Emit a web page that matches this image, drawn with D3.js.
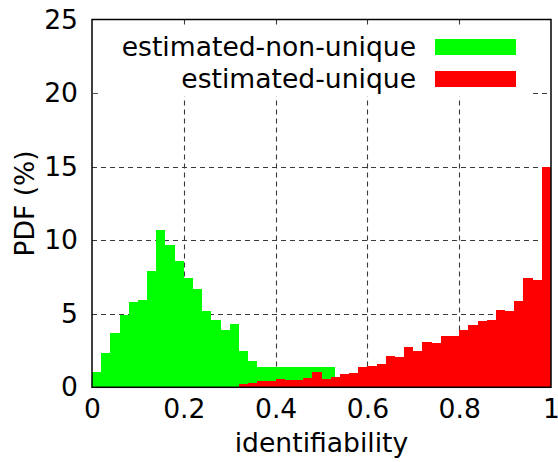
<!DOCTYPE html>
<html>
<head>
<meta charset="utf-8">
<script src="https://cdn.jsdelivr.net/npm/d3@7/dist/d3.min.js"></script>
<style>
  html, body { margin: 0; padding: 0; background: #fff; }
  svg { display: block; }
  text { font-family: "DejaVu Sans", sans-serif; fill: #000; }
</style>
</head>
<body>
<svg id="chart" width="558" height="462"></svg>
<script>
// Histogram of identifiability, PDF in percent per bin.
const seriesNames = ["estimated-non-unique", "estimated-unique"];
const seriesColors = ["#00ff00", "#ff0000"];

// estimated-non-unique: 0.02-wide bins up to 0.36, then one bin covering the tail to 0.53
const greenEdges = [0, 0.02, 0.04, 0.06, 0.08, 0.10, 0.12, 0.14, 0.16, 0.18,
                    0.20, 0.22, 0.24, 0.26, 0.28, 0.30, 0.32, 0.34, 0.36, 0.53];
const greenPdf = [1.05, 2.33, 3.69, 4.91, 5.80, 5.93, 7.90, 10.69, 9.69, 8.58,
                  7.43, 6.68, 5.21, 4.58, 3.90, 4.31, 2.47, 1.79, 1.38];

// estimated-unique: 0.02-wide bins from 0.32 to 1.00
const redStart = 0.32, binWidth = 0.02;
const redPdf = [0.23, 0.30, 0.44, 0.44, 0.57, 0.50, 0.50, 0.64, 1.05, 0.57,
                0.71, 0.91, 0.98, 1.38, 1.45, 1.59, 2.13, 2.06, 2.74, 2.47,
                3.08, 3.01, 3.49, 3.49, 3.90, 4.24, 4.51, 4.58, 5.26, 5.19,
                5.87, 7.43, 7.29, 14.96];

const xTicks = [0, 0.2, 0.4, 0.6, 0.8, 1];
const yTicks = [0, 5, 10, 15, 20, 25];

const fontSize = 26.6;
const svg = d3.select("#chart");
const plotL = 92, plotR = 551, plotT = 19.5, plotB = 387.3;
const x = d3.scaleLinear().domain([0, 1]).range([plotL, plotR]);
const y = d3.scaleLinear().domain([0, 25]).range([plotB, plotT]);

const greenBins = greenPdf.map((v, i) => ({ x0: greenEdges[i], x1: greenEdges[i + 1], v }));
const redBins = redPdf.map((v, i) => ({ x0: redStart + i * binWidth, x1: redStart + (i + 1) * binWidth, v }));

// grid
const grid = svg.append("g").attr("stroke", "#3a3a3a").attr("stroke-width", 1.1)
  .attr("stroke-dasharray", "5,4").attr("fill", "none");
grid.selectAll("line.h").data(yTicks.filter(t => t > 0 && t < 25)).join("line")
  .attr("class", "h")
  .attr("x1", plotL).attr("x2", plotR)
  .attr("y1", d => Math.round(y(d)) + 0.5).attr("y2", d => Math.round(y(d)) + 0.5);
grid.selectAll("line.v").data(xTicks.filter(t => t > 0 && t < 1)).join("line")
  .attr("class", "v")
  .attr("y1", plotT).attr("y2", plotB)
  .attr("x1", d => Math.round(x(d)) + 0.5).attr("x2", d => Math.round(x(d)) + 0.5);

// bars
function drawBars(bins, color) {
  svg.append("g").selectAll("rect").data(bins).join("rect")
    .attr("x", d => x(d.x0))
    .attr("width", d => x(d.x1) - x(d.x0))
    .attr("y", d => y(d.v))
    .attr("height", d => y(0) - y(d.v))
    .attr("fill", color)
    .attr("shape-rendering", "crispEdges");
}
drawBars(greenBins, seriesColors[0]);
drawBars(redBins, seriesColors[1]);

// axes
const xAxis = d3.axisBottom(x).tickValues(xTicks).tickSize(0).tickPadding(12)
  .tickFormat(d => d3.format("~g")(d));
svg.append("g").attr("transform", `translate(0,${plotB})`).call(xAxis)
  .call(g => g.select(".domain").remove())
  .selectAll("text").attr("font-size", fontSize).attr("font-family", "DejaVu Sans");

const yAxis = d3.axisLeft(y).tickValues(yTicks).tickSize(0).tickPadding(14);
svg.append("g").attr("transform", `translate(${plotL},0)`).call(yAxis)
  .call(g => g.select(".domain").remove())
  .selectAll("text").attr("font-size", fontSize).attr("font-family", "DejaVu Sans");

// legend with opaque background
const legend = svg.append("g");
legend.append("rect").attr("x", 98).attr("y", 26.5).attr("width", 434).attr("height", 70).attr("fill", "#fff");
seriesNames.forEach((name, i) => {
  const cy = 47 + i * 32;
  legend.append("text").attr("x", 416).attr("y", cy).attr("dy", "0.33em")
    .attr("text-anchor", "end").attr("font-size", fontSize).text(name);
  legend.append("rect").attr("x", 435).attr("y", cy - 8).attr("width", 81).attr("height", 16)
    .attr("fill", seriesColors[i]);
});

// frame
svg.append("rect").attr("x", plotL).attr("y", plotT).attr("width", plotR - plotL).attr("height", plotB - plotT)
  .attr("fill", "none").attr("stroke", "#000").attr("stroke-width", 1.5);
// short tick at 20 on the left border
svg.append("line").attr("x1", plotL).attr("x2", plotL + 6).attr("y1", Math.round(y(20)) + 0.5).attr("y2", Math.round(y(20)) + 0.5)
  .attr("stroke", "#555");

// axis titles
svg.append("text").attr("x", (plotL + plotR) / 2).attr("y", 452).attr("text-anchor", "middle")
  .attr("font-size", fontSize).text("identifiability");
svg.append("text").attr("transform", `translate(34,${(plotT + plotB) / 2}) rotate(-90)`)
  .attr("text-anchor", "middle").attr("font-size", fontSize).text("PDF (%)");
</script>
</body>
</html>
